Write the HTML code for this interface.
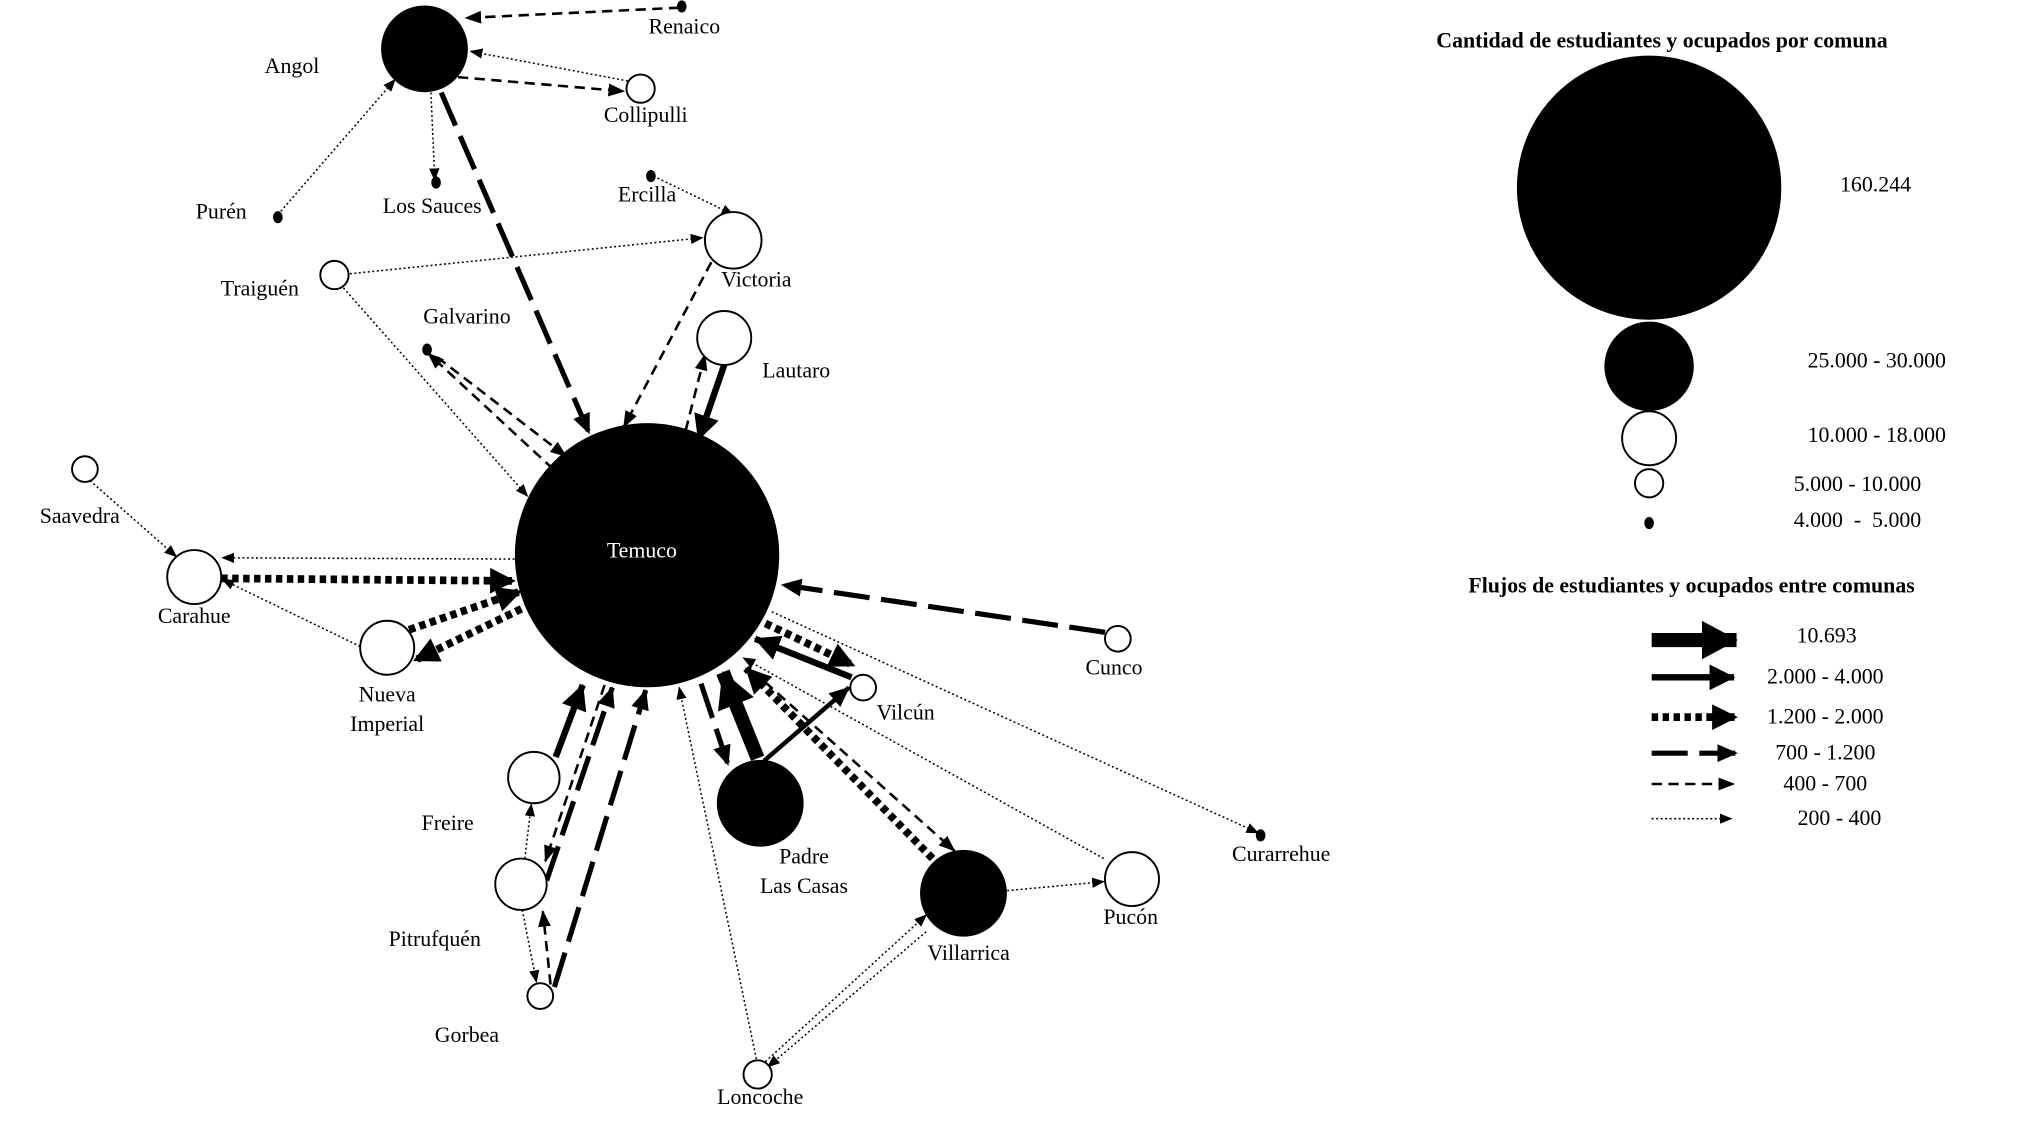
<!DOCTYPE html>
<html><head><meta charset="utf-8"><style>
html,body{margin:0;padding:0;background:#fff;}
svg{display:block;}
text{font-family:"Liberation Serif",serif;font-size:17px;fill:#000;text-anchor:middle;dominant-baseline:middle;}
</style></head><body>
<svg width="2017" height="1131" viewBox="0 0 1568 880" preserveAspectRatio="none" xmlns="http://www.w3.org/2000/svg">
<defs>
<marker id="a1" markerUnits="userSpaceOnUse" markerWidth="10" markerHeight="8" refX="9" refY="4" orient="auto"><path d="M0,0 L10,4 L0,8 z"/></marker>
<marker id="a2" markerUnits="userSpaceOnUse" markerWidth="13" markerHeight="10" refX="12" refY="5" orient="auto"><path d="M0,0 L13,5 L0,10 z"/></marker>
<marker id="a3" markerUnits="userSpaceOnUse" markerWidth="16" markerHeight="14" refX="15" refY="7" orient="auto"><path d="M0,0 L16,7 L0,14 z"/></marker>
<marker id="a4" markerUnits="userSpaceOnUse" markerWidth="20" markerHeight="20" refX="19" refY="10" orient="auto"><path d="M0,0 L20,10 L0,20 z"/></marker>
<marker id="a5" markerUnits="userSpaceOnUse" markerWidth="20" markerHeight="20" refX="19" refY="10" orient="auto"><path d="M0,0 L20,10 L0,20 z"/></marker>
<marker id="a6" markerUnits="userSpaceOnUse" markerWidth="28" markerHeight="30" refX="27" refY="15" orient="auto"><path d="M0,0 L28,15 L0,30 z"/></marker>
</defs>

<g fill="none" stroke="#000">
<g stroke-width="1.2" stroke-dasharray="1.5,2" marker-end="url(#a1)">
<line x1="488" y1="63" x2="366" y2="40"/>
<line x1="216" y1="167" x2="307" y2="62"/>
<line x1="335" y1="72" x2="338" y2="140"/>
<line x1="508" y1="137" x2="570" y2="167"/>
<line x1="272" y1="213" x2="546" y2="185"/>
<line x1="267" y1="224" x2="410" y2="386"/>
<line x1="70" y1="374" x2="137" y2="433"/>
<line x1="400" y1="435" x2="173" y2="434"/>
<line x1="280" y1="503" x2="173" y2="451"/>
<line x1="600" y1="476" x2="978" y2="648"/>
<line x1="858" y1="668" x2="578" y2="512"/>
<line x1="783" y1="693" x2="858" y2="686"/>
<line x1="595" y1="826" x2="720" y2="712"/>
<line x1="720" y1="725" x2="597" y2="830"/>
<line x1="588" y1="824" x2="528" y2="535"/>
<line x1="408" y1="668" x2="413" y2="626"/>
<line x1="406" y1="708" x2="417" y2="764"/>
<line x1="1284" y1="637" x2="1346" y2="637"/>
</g>
<g stroke-width="2" stroke-dasharray="8,5" marker-end="url(#a2)">
<line x1="528" y1="6" x2="362" y2="14"/>
<line x1="356" y1="60" x2="485" y2="71"/>
<line x1="553" y1="204" x2="485" y2="332"/>
<line x1="430" y1="365" x2="333" y2="275"/>
<line x1="340" y1="278" x2="440" y2="355"/>
<line x1="533" y1="335" x2="548" y2="276"/>
<line x1="585" y1="522" x2="742" y2="662"/>
<line x1="470" y1="533" x2="424" y2="670"/>
<line x1="428" y1="766" x2="422" y2="709"/>
<line x1="1284" y1="610" x2="1348" y2="610"/>
</g>
<g stroke-width="4" stroke-dasharray="28,9" marker-end="url(#a3)">
<line x1="343" y1="72" x2="458" y2="337"/>
<line x1="859" y1="492" x2="608" y2="455"/>
<line x1="545" y1="532" x2="566" y2="595"/>
<line x1="425" y1="685" x2="476" y2="535"/>
<line x1="431" y1="768" x2="502" y2="537"/>
<line x1="1284" y1="586" x2="1350" y2="586"/>
</g>
<g stroke-width="6" stroke-dasharray="5,3.5" marker-end="url(#a4)">
<line x1="172" y1="450" x2="400" y2="452"/>
<line x1="318" y1="490" x2="405" y2="460"/>
<line x1="413" y1="470" x2="322" y2="514"/>
<line x1="595" y1="485" x2="664" y2="518"/>
<line x1="725" y1="668" x2="580" y2="520"/>
<line x1="1284" y1="558" x2="1350" y2="558"/>
</g>
<g stroke-width="5" marker-end="url(#a5)">
<line x1="563" y1="284" x2="543" y2="342"/>
<line x1="662" y1="527" x2="587" y2="497"/>
<line x1="432" y1="589" x2="453" y2="533"/>
<line x1="1284" y1="527" x2="1348" y2="527"/>
</g>
<line x1="594" y1="592" x2="660" y2="535" stroke-width="3.5" marker-end="url(#a3)"/>
<g stroke-width="11" marker-end="url(#a6)">
<line x1="589" y1="590" x2="562" y2="523"/>
<line x1="1284" y1="498" x2="1350" y2="498"/>
</g>
</g>

<g stroke="#000" stroke-width="1.5">
<circle cx="330" cy="38" r="33" fill="#000"/>
<ellipse cx="530" cy="5" rx="3" ry="4" fill="#000"/>
<circle cx="498" cy="69" r="11" fill="#fff"/>
<ellipse cx="216" cy="169" rx="3" ry="4" fill="#000"/>
<ellipse cx="339" cy="142" rx="3" ry="4" fill="#000"/>
<ellipse cx="506" cy="137" rx="3" ry="4" fill="#000"/>
<circle cx="570" cy="187" r="22" fill="#fff"/>
<circle cx="260" cy="214" r="11" fill="#fff"/>
<ellipse cx="332" cy="272" rx="3" ry="4" fill="#000"/>
<circle cx="563" cy="263" r="21" fill="#fff"/>
<circle cx="503" cy="432" r="102" fill="#000"/>
<circle cx="66" cy="365" r="10" fill="#fff"/>
<circle cx="151" cy="449" r="21" fill="#fff"/>
<circle cx="301" cy="504" r="21" fill="#fff"/>
<circle cx="869" cy="497" r="10" fill="#fff"/>
<circle cx="671" cy="535" r="10" fill="#fff"/>
<circle cx="591" cy="625" r="33" fill="#000"/>
<ellipse cx="980" cy="650" rx="3" ry="4" fill="#000"/>
<circle cx="415" cy="605" r="20" fill="#fff"/>
<circle cx="405" cy="688" r="20" fill="#fff"/>
<circle cx="420" cy="775" r="10" fill="#fff"/>
<circle cx="749" cy="695" r="33" fill="#000"/>
<circle cx="880" cy="684" r="21" fill="#fff"/>
<circle cx="589" cy="836" r="11" fill="#fff"/>
<circle cx="1282" cy="146" r="102" fill="#000"/>
<circle cx="1282" cy="285" r="34" fill="#000"/>
<circle cx="1282" cy="341" r="21" fill="#fff"/>
<circle cx="1282" cy="376" r="11" fill="#fff"/>
<ellipse cx="1282" cy="407" rx="3" ry="4" fill="#000"/>
</g>

<text x="227" y="53">Angol</text>
<text x="532" y="22">Renaico</text>
<text x="502" y="91">Collipulli</text>
<text x="172" y="166">Purén</text>
<text x="336" y="162">Los Sauces</text>
<text x="503" y="153">Ercilla</text>
<text x="588" y="219">Victoria</text>
<text x="202" y="226">Traiguén</text>
<text x="363" y="248">Galvarino</text>
<text x="619" y="290">Lautaro</text>
<text x="499" y="430" style="fill:#fff">Temuco</text>
<text x="62" y="403">Saavedra</text>
<text x="151" y="481">Carahue</text>
<text x="301" y="542">Nueva</text>
<text x="301" y="565">Imperial</text>
<text x="866" y="521">Cunco</text>
<text x="704" y="556">Vilcún</text>
<text x="625" y="668">Padre</text>
<text x="625" y="691">Las Casas</text>
<text x="996" y="666">Curarrehue</text>
<text x="348" y="642">Freire</text>
<text x="338" y="732">Pitrufquén</text>
<text x="363" y="807">Gorbea</text>
<text x="753" y="743">Villarrica</text>
<text x="879" y="715">Pucón</text>
<text x="591" y="855">Loncoche</text>

<text x="1292" y="33" style="font-weight:bold">Cantidad de estudiantes y ocupados por comuna</text>
<text x="1458" y="145">160.244</text>
<text x="1459" y="282">25.000 - 30.000</text>
<text x="1459" y="340">10.000 - 18.000</text>
<text x="1444" y="378">5.000 - 10.000</text>
<text x="1444" y="406" style="white-space:pre">4.000  -  5.000</text>
<text x="1315" y="457" style="font-weight:bold">Flujos de estudiantes y ocupados entre comunas</text>
<text x="1420" y="496">10.693</text>
<text x="1419" y="528">2.000 - 4.000</text>
<text x="1419" y="559">1.200 - 2.000</text>
<text x="1419" y="587">700 - 1.200</text>
<text x="1419" y="611">400 - 700</text>
<text x="1430" y="638">200 - 400</text>
</svg>
</body></html>
